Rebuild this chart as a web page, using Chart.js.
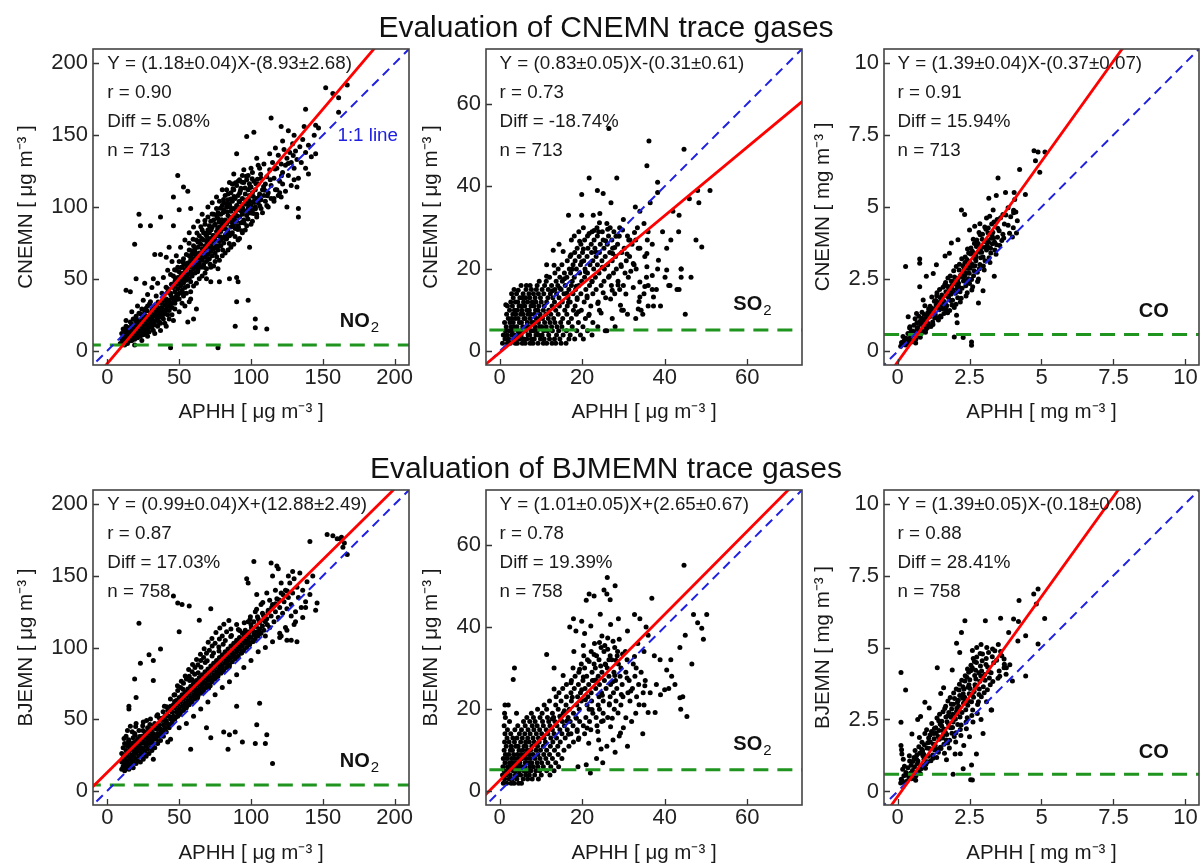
<!DOCTYPE html>
<html><head><meta charset="utf-8">
<script src="https://cdn.jsdelivr.net/npm/chart.js@4.4.1/dist/chart.umd.min.js"></script>
<style>
html,body{margin:0;padding:0;background:#fff;width:1201px;height:868px;overflow:hidden;position:relative;font-family:"Liberation Sans",Arial,sans-serif;}
canvas{position:absolute;}
.ttl{position:absolute;left:0;width:1212px;text-align:center;font-size:30px;line-height:30px;color:#111;white-space:nowrap;z-index:2;}
</style></head><body>
<div class="ttl" style="top:12px">Evaluation of CNEMN trace gases</div>
<div class="ttl" style="top:453px">Evaluation of BJMEMN trace gases</div>
<canvas id="c1"></canvas><canvas id="c2"></canvas><canvas id="c3"></canvas>
<canvas id="c4"></canvas><canvas id="c5"></canvas><canvas id="c6"></canvas>
<script>
// ---------- scatter data [APHH, model] ----------
const cnemnNO2 = [
[9,5],[10,8],[10,12],[11,6],[11,10],[12,4],[12,8],[12,14],[13,6],[13,11],[13,17],[14,9],[14,5],[14,13],[15,7],[15,11],[15,16],[16,9],[16,13],[16,20],[17,7],[17,11],[17,15],[18,10],[18,14],[18,22],[19,8],[19,13],[19,18],[20,11],[20,16],[20,24],[21,9],[21,14],[21,19],[22,12],[22,17],[22,26],[23,10],[23,15],[23,21],[24,13],[24,18],[24,29],[25,11],[25,16],[25,22],[26,14],[26,20],[26,27],[27,12],[27,18],[27,24],[28,15],[28,21],[28,31],[29,17],[29,23],[29,13],[30,19],[30,26],[30,34],[31,16],[31,22],[31,28],[32,20],[32,25],[32,14],[33,18],[33,24],[33,31],[34,21],[34,27],[34,38],[35,17],[35,25],[35,30],[36,23],[36,28],[36,20],[37,26],[37,33],[37,19],[38,24],[38,30],[38,40],[39,22],[39,28],[39,35],[40,26],[40,32],[40,19],[41,29],[41,36],[42,25],[42,31],[42,43],[43,28],[43,35],[43,22],[44,33],[44,40],[45,30],[45,37],[45,25],
[46,36],[46,44],[46,52],[47,33],[47,41],[47,48],[48,38],[48,46],[48,56],[49,43],[49,51],[50,40],[50,47],[50,55],[50,62],[51,45],[51,52],[52,42],[52,49],[52,58],[53,47],[53,54],[53,64],[54,44],[54,51],[54,60],[55,49],[55,57],[55,67],[56,53],[56,61],[56,45],[57,50],[57,58],[57,70],[58,55],[58,63],[58,48],[59,60],[59,67],[59,52],[60,57],[60,64],[60,73],[61,54],[61,62],[61,69],[62,59],[62,66],[62,77],[63,56],[63,64],[63,72],[64,61],[64,68],[64,80],[65,58],[65,66],[65,74],[66,63],[66,71],[66,84],[67,60],[67,69],[67,77],[68,65],[68,73],[68,88],[69,62],[69,71],[69,80],[70,67],[70,76],[70,84],[70,93],[71,64],[71,73],[71,82],[72,69],[72,78],[72,90],[73,66],[73,75],[73,86],[74,71],[74,80],[74,95],[75,68],[75,77],[75,88],[76,73],[76,83],[76,99],[77,70],[77,80],[77,92],[78,76],[78,86],[78,104],[79,73],[79,83],[79,95],[80,78],[80,88],[80,101],[81,75],[81,85],[81,98],[82,80],[82,91],[82,108],[83,78],[83,88],[83,100],[84,83],[84,94],[84,105],[85,80],[85,90],[85,102],[86,86],[86,97],[86,110],[87,82],[87,93],[87,104],[88,88],[88,99],[88,112],[89,85],[89,95],[89,106],[90,90],[90,101],[90,115],[91,87],[91,98],[91,108],[92,93],[92,104],[93,89],[93,100],[93,113],[94,95],[94,106],[95,91],[95,102],[95,117],[96,97],[96,109],[97,94],[97,105],[98,99],[98,112],[99,96],[99,108],[100,101],[100,114],[101,98],[101,110],[102,104],[102,118],[103,100],[103,112],[104,106],[105,103],[105,116],[106,109],[107,105],[107,120],[108,112],[109,108],[110,116],[110,104],
[111,121],[112,110],[113,126],[114,115],[115,131],[116,120],[117,112],[118,127],[119,136],[120,118],[121,130],[122,124],[123,140],[124,129],[125,134],[126,122],[127,138],[128,131],[129,144],[130,127],[131,139],[132,133],[133,120],[134,142],[135,131],[136,147],[138,138],[140,143],[142,135],[144,150],[147,155],[128,115],[124,111],[119,108],[132,114],[122,146],[117,141],[113,137],[109,130],[106,127],[104,134],[100,127],[98,122],[95,126],[92,119],[88,123],[85,117],[83,112],[80,112],[76,107],[73,103],[70,100],[66,95],[63,90],[60,86],[57,82],[54,77],[51,72],[48,66],[45,62],
[60,45],[64,50],[68,54],[72,58],[75,62],[80,66],[84,70],[88,74],[92,78],[96,84],[100,88],[104,93],[108,96],[112,100],[116,104],[120,110],[55,40],[50,36],[52,33],
[47,29],[53,38],[58,41],[62,47],[66,52],[69,57],[74,59],[78,63],[82,68],[86,72],[91,77],[94,82],[97,87],[101,90],[104,95],[107,99],[111,101],[114,106],[118,112],[122,116],
[44,53],[49,58],[53,61],[57,66],[61,71],[64,76],[67,82],[71,87],[74,91],[77,96],[81,103],[84,109],[87,116],[91,118],[94,122],[97,119],[101,124],[105,129],
[21,31],[25,35],[28,39],[31,44],[35,47],[39,51],[42,56],[17,27],[13,21],[11,15],[19,4],[24,7],[28,10],[33,12],[37,14],[41,17],[46,21],[50,27],[54,31],[58,36],
[63.5,59.3],[68.7,71.2],[72.4,74.1],[76.8,85.3],[79.6,91.2],[83.3,96.7],[86.7,89.4],[88.2,107.3],[92.6,111.4],[95.8,113.2],[99.1,103.7],[103.4,116.2],[106.7,122.8],[54.3,56.2],[57.8,65.4],[61.2,67.9],[65.7,78.1],[69.3,75.8],[73.6,80.2],[77.4,82.6],[81.7,88.3],[85.2,92.4],[89.7,97.6],[93.3,97.1],[97.4,101.8],[101.6,107.3],[58.4,61.3],[62.7,62.1],[66.2,67.4],[70.8,71.3],[74.4,76.9],[78.9,79.3],[82.3,84.6],[87.1,86.8],[90.6,93.7],[94.2,99.2],[98.5,104.8],[102.2,103.1],[113.4,118.9],[116.7,126.4],[121.2,121.7],[125.8,130.3],[129.4,135.8],[42.3,40.7],[38.6,35.2],[35.4,33.8],[31.7,29.5],[27.5,27.8],[24.2,24.1],[20.6,21.7],[17.3,17.2],[14.7,14.6],[12.4,10.3],[16.2,6.8],[21.8,11.3],[26.3,15.8],[30.7,17.1],[34.8,22.6],[39.2,25.4],[43.7,30.8],[48.2,35.6],[52.6,40.2],[47.3,50.4],[51.8,53.6],[44.6,46.3],[40.9,44.2],
[52.7,61.8],[55.4,52.3],[58.9,69.6],[61.6,58.4],[63.2,75.4],[66.8,68.9],[68.1,81.6],[70.5,63.7],[72.9,95.1],[75.3,71.8],[77.7,89.5],[79.2,77.3],[80.6,96.2],[83.8,81.9],[85.9,105.6],[88.4,91.8],[90.9,84.3],[92.1,109.8],[94.7,89.7],[96.5,103.9],[99.3,113.6],[101.8,95.4],[104.5,119.4],[106.1,100.8],[108.8,114.3],[111.4,107.9],[56.9,74.8],[59.7,77.5],[62.4,81.9],[65.1,86.3],[67.9,90.6],[69.8,78.4],[72.3,84.1],[74.8,87.7],[76.2,93.4],[78.6,99.1],[80.9,105.3],[83.1,102.4],[85.6,99.8],[87.5,112.7],[89.2,116.8],[91.7,103.5],[93.9,117.2],[96.8,121.4],[98.9,116.2],[100.8,119.7],[46.8,56.3],[49.6,48.7],[51.3,57.9],[53.9,49.2],[56.2,58.8],[58.1,53.7],[60.9,61.2],[62.8,54.9],[65.3,63.6],[67.2,58.1],[69.7,67.3],[71.6,60.2],[73.2,71.5],[76.1,65.4],[78.2,72.9],[80.3,70.1],[82.7,77.8],[84.9,74.6],[86.3,81.2],[88.9,79.5],[91.3,85.7],[93.6,83.4],[95.2,88.8],[97.9,91.6],[100.3,95.9],[103.1,98.7],[105.8,107.2],[109.5,111.6],
[11.3,7.4],[13.6,12.8],[15.8,9.7],[18.4,17.6],[20.2,13.3],[22.7,19.8],[25.4,20.6],[27.8,22.9],[30.3,23.7],[32.6,28.4],[35.8,27.2],[38.1,33.6],[41.6,34.1],[44.2,38.7],[29.4,32.6],[26.7,29.3],[23.1,25.7],[19.6,20.9],[16.9,18.4],[14.3,15.9],[12.8,5.6],[17.9,9.2],[22.3,14.6],[27.1,17.3],[31.9,19.8],[36.7,24.8],[40.8,28.1],[45.7,33.4],[49.1,38.9],
[167,185],[152,183],[157,179],[161,176],[161,166],[138,168],[145,157],[137,156],[114,162],[121,156],[102,152],[97,149],[126,153],[130,150],[145,137],[140,123],[138,127],[130,119],[125,100],[133,99],[133,93],[116,106],[121,107],[90,137],[49,122],[53,114],[56,111],[46,107],[22,95],[23,87],[30,87],[37,93],[50,98],[58,99],[46,87],[19,74],[33,67],[37,67],[41,65],[43,72],[20,50],[26,47],[32,50],[13,42],[16,41],[90,51],[91,48],[85,50],[78,48],[90,34],[89,17],[103,22],[103,16],[111,15],[98,35],[99,72],[77,57],[72,48],[69,50],[44,2],[77,2],[60,22],[56,20],[62,29],[57,34]
];
const cnemnSO2 = [
[0.7,2],[1.9,2],[2.6,2],[3.8,2],[4.3,2],[5.5,2],[6.2,2],[7.4,2],[8.1,2],[9.3,2],[10.6,2],[11.4,2],[12.7,2],[13.6,2],[14.9,2],[16.1,2],
[1.3,3],[2.2,3],[3.4,3],[4.1,3],[4.9,3],[5.8,3],[6.6,3],[7.7,3],[8.4,3],[9.9,3],[10.8,3],[12.1,3],[13.3,3],[14.6,3],[16.8,3],[18.2,3],[20.3,3],
[0.9,4],[1.8,4],[2.9,4],[3.6,4],[4.6,4],[5.2,4],[6.9,4],[7.3,4],[8.8,4],[9.5,4],[10.3,4],[11.9,4],[13.8,4],[15.4,4],[17.1,4],[19.6,4],[22.4,4],
[1.4,5],[2.3,5],[3.1,5],[4.4,5],[5.1,5],[6.3,5],[7.6,5],[8.2,5],[9.1,5],[10.7,5],[11.6,5],[12.8,5],[14.3,5],[16.2,5],[18.7,5],[21.3,5],[25.6,5],
[1.6,6],[2.8,6],[3.5,6],[4.2,6],[5.6,6],[6.4,6],[7.1,6],[8.6,6],[9.7,6],[10.2,6],[11.3,6],[12.6,6],[13.9,6],[15.1,6],[17.6,6],[20.2,6],[23.8,6],
[1.2,7],[2.5,7],[3.3,7],[4.8,7],[5.3,7],[6.7,7],[7.8,7],[8.3,7],[9.4,7],[10.9,7],[12.2,7],[13.4,7],[14.8,7],[16.7,7],[19.1,7],[22.6,7],
[2.1,8],[2.9,8],[3.8,8],[4.5,8],[5.9,8],[6.2,8],[7.4,8],[8.9,8],[9.6,8],[10.4,8],[11.8,8],[13.1,8],[15.3,8],[17.4,8],[20.8,8],[27.3,8],
[1.7,9],[3.2,9],[3.9,9],[5.1,9],[5.7,9],[6.9,9],[7.5,9],[8.4,9],[9.8,9],[11.2,9],[12.4,9],[14.2,9],[16.3,9],[18.6,9],[21.7,9],
[2.4,10],[3.6,10],[4.3,10],[5.4,10],[6.6,10],[7.2,10],[8.7,10],[9.3,10],[10.6,10],[11.9,10],[13.6,10],[15.8,10],[17.9,10],[19.8,10],[24.2,10],[29.6,10],
[1.9,11],[3.1,11],[4.7,11],[5.2,11],[6.1,11],[7.6,11],[8.3,11],[9.5,11],[10.8,11],[12.7,11],[14.5,11],[16.4,11],[18.3,11],[22.1,11],
[2.7,12],[3.8,12],[4.4,12],[5.8,12],[6.8,12],[7.9,12],[8.8,12],[10.1,12],[11.4,12],[13.3,12],[15.2,12],[17.1,12],[20.5,12],[23.9,12],
[3.3,13],[4.9,13],[5.5,13],[6.3,13],[7.3,13],[8.6,13],[9.9,13],[11.7,13],[12.9,13],[14.4,13],[16.6,13],[18.8,13],[21.2,13],[25.7,13],
[2.9,14],[4.1,14],[5.7,14],[7.1,14],[8.2,14],[9.4,14],[10.7,14],[12.3,14],[13.8,14],[15.6,14],[17.8,14],[19.7,14],[22.6,14],[27.9,14],
[3.5,15],[6.4,15],[7.7,15],[8.9,15],[10.3,15],[11.8,15],[13.4,15],[14.9,15],[16.8,15],[18.4,15],[20.9,15],[23.4,15],[29.1,15],
[5.2,16],[7.4,16],[9.1,16],[10.9,16],[12.6,16],[14.1,16],[15.9,16],[17.4,16],[19.2,16],[21.8,16],[24.6,16],[27.1,16],
[9.6,17],[11.3,17],[13.7,17],[15.2,17],[17.6,17],[19.9,17],[22.4,17],[25.3,17],[28.7,17],[12.1,18],[14.6,18],[16.3,18],[18.1,18],[20.6,18],[23.2,18],[26.4,18],[31.2,18],[35.6,18],
[13.4,19],[15.7,19],[17.2,19],[19.4,19],[21.3,19],[24.1,19],[27.6,19],[30.4,19],[14.2,20],[16.9,20],[18.6,20],[20.7,20],[22.8,20],[25.4,20],[28.3,20],[33.1,20],
[15.1,21],[17.8,21],[19.6,21],[21.9,21],[23.7,21],[26.2,21],[29.4,21],[32.6,21],[16.4,22],[18.3,22],[20.4,22],[22.6,22],[24.8,22],[27.3,22],[30.7,22],
[17.1,23],[19.3,23],[21.2,23],[23.4,23],[25.6,23],[28.1,23],[31.5,23],[35.2,23],[18.2,24],[20.1,24],[22.3,24],[24.2,24],[26.7,24],[29.6,24],
[18.8,25],[21.4,25],[23.1,25],[25.3,25],[27.4,25],[30.2,25],[33.6,25],[19.7,26],[22.2,26],[24.4,26],[26.1,26],[28.6,26],[32.1,26],
[17.4,27],[20.6,27],[22.9,27],[25.1,27],[27.2,27],[31.3,27],[35.8,27],[18.1,28],[21.3,28],[23.7,28],[26.4,28],[28.9,28],
[19.2,29],[22.4,29],[24.9,29],[27.7,29],[20.3,30],[23.6,30],[26.8,30],[29.1,30],[33.4,30],
[15.7,17.6],[17.3,23.4],[18.6,15.8],[19.4,26.7],[20.8,19.3],[21.7,28.6],[22.4,16.9],[23.3,24.1],[24.9,20.4],[25.7,26.8],[26.6,18.3],[27.4,23.7],[28.2,27.9],[29.5,20.6],[19.9,21.7],[21.2,13.4],[23.8,11.6],[25.1,14.2],[26.9,12.7],[28.7,16.1],[30.6,13.9],[31.8,19.4],[17.6,19.9],[16.3,14.1],[18.8,12.6],[20.3,24.8],[22.9,29.3],[24.2,31.2],[26.2,29.6],[27.9,25.2],[29.8,29.4],[30.9,23.6],[32.7,28.8],[14.6,15.3],[13.2,20.9],[15.4,24.2],[12.8,14.7],[16.7,11.9],[19.1,9.6],[21.6,8.7],[24.6,9.3],[27.3,14.8],[33.8,12.1],[35.2,15.7],[29.3,11.2],
[30,10],[33.6,10.3],[34.3,10],[34.7,9],[34,13.2],[32.4,15.5],[30,16],[34,16.8],[37.3,13.2],[37,18.4],[38.3,20],[38.5,22.1],[40.5,19.7],[40.1,18],[32.4,21.3],[35.7,20.5],[35.7,23.7],[34,25],[31.6,27],[28,6],[26,5],[31,9],[33,8],[36,11],[38,15],[39,11],[41,16],[43,15],[44,20],[44,18],[46.4,18],[41.3,16],[45,9],[43.5,15],[37,15],[37.3,11],[36,16],[35,14],
[36.2,51],[44.7,49],[35.7,45],[26.5,54],[21.7,42],[28.4,42],[19.9,38],[23.7,39],[25.1,38.3],[16.7,33],[19.9,33],[22.7,33],[24.3,33.4],[14.4,26],[13,24.5],[11.4,21],[11.4,18.2],[4.5,14.8],[1.5,11.3],[6.5,16],[38.3,41],[38.3,38.5],[36.5,36],[32.9,35],[34,34],[48,39],[51,39],[46,37],[48.3,36],[42,34],[43.5,33],[39.5,29],[43.4,29],[41.5,27],[47.6,27],[49,25.3],[40.5,25],[44,20],[27,36],[30,32],[31,28],[29,28],[26,31],[24,29],[33,27],[36,29],[35,31],[37,26]
];
const cnemnCO = [
[0.14,0.31],[0.27,0.22],[0.19,0.52],[0.23,0.37],[0.11,0.18],[0.29,0.46],[0.16,0.27],
[0.36,0.62],[0.48,0.33],[0.33,0.25],[0.42,0.81],[0.45,0.49],[0.39,0.38],[0.47,0.68],[0.31,0.44],
[0.57,0.91],[0.64,0.43],[0.52,0.56],[0.69,0.74],[0.61,1.13],[0.55,0.35],[0.67,0.98],[0.59,0.66],[0.63,0.29],
[0.74,1.22],[0.82,0.62],[0.88,0.97],[0.71,0.83],[0.79,0.49],[0.85,1.36],[0.77,1.04],[0.89,0.71],[0.73,0.58],[0.84,1.15],
[0.93,1.28],[1.04,0.83],[0.97,0.66],[1.08,1.47],[0.91,1.02],[1.02,1.19],[0.95,1.58],[1.07,0.97],[0.99,0.77],[1.05,1.34],[0.92,0.89],
[1.13,1.56],[1.22,1.02],[1.28,1.74],[1.16,0.86],[1.25,1.31],[1.11,1.19],[1.19,1.88],[1.27,1.45],[1.14,1.37],[1.23,0.93],[1.29,1.16],
[1.34,1.61],[1.42,1.09],[1.48,1.87],[1.31,1.28],[1.45,1.44],[1.37,2.03],[1.49,1.23],[1.33,1.76],[1.41,1.52],[1.46,2.14],[1.38,1.17],[1.44,1.69],
[1.53,1.82],[1.61,1.31],[1.68,2.07],[1.56,1.48],[1.64,2.31],[1.51,1.19],[1.66,1.64],[1.58,2.22],[1.69,1.43],[1.54,1.95],[1.62,1.73],[1.67,2.39],[1.59,1.57],
[1.72,1.93],[1.81,1.42],[1.88,2.28],[1.75,2.54],[1.84,1.76],[1.71,1.58],[1.86,2.06],[1.78,2.19],[1.89,1.61],[1.74,1.34],[1.83,2.61],[1.77,1.87],[1.87,2.43],
[1.92,2.14],[2.03,1.63],[2.08,2.47],[1.95,2.79],[2.01,2.01],[1.91,1.77],[2.06,2.31],[1.98,2.58],[2.09,1.86],[1.94,2.42],[2.04,2.94],[1.97,1.52],[2.07,2.17],
[2.12,2.36],[2.21,1.84],[2.28,2.71],[2.15,3.02],[2.24,2.19],[2.11,2.53],[2.27,2.97],[2.18,1.71],[2.29,2.44],[2.14,2.82],[2.23,3.21],[2.17,2.07],[2.26,2.58],
[2.33,2.61],[2.42,2.03],[2.48,2.96],[2.35,3.27],[2.44,2.39],[2.31,2.84],[2.47,3.41],[2.38,1.92],[2.49,2.71],[2.34,3.08],[2.43,3.55],[2.37,2.27],[2.46,2.52],[2.41,3.18],
[2.52,2.88],[2.61,2.24],[2.68,3.23],[2.55,3.58],[2.64,2.62],[2.51,3.11],[2.67,3.74],[2.58,2.13],[2.69,2.97],[2.54,3.37],[2.63,3.88],[2.57,2.49],[2.66,2.79],[2.6,3.47],
[2.72,3.14],[2.81,2.51],[2.88,3.52],[2.75,3.86],[2.84,2.86],[2.71,3.38],[2.87,4.04],[2.78,2.42],[2.89,3.24],[2.74,3.63],[2.83,4.12],[2.77,2.74],[2.86,3.01],[2.8,3.74],
[2.92,3.43],[3.01,2.82],[3.08,3.79],[2.95,4.06],[3.04,3.14],[2.91,3.62],[3.07,4.23],[2.98,2.96],[3.09,3.51],[2.94,3.88],[3.03,4.31],[2.97,3.27],
[3.12,3.66],[3.21,3.08],[3.28,4.02],[3.15,4.27],[3.24,3.41],[3.11,3.85],[3.27,4.41],[3.18,3.24],[3.29,3.73],[3.14,4.11],[3.23,3.57],
[3.33,3.92],[3.42,3.36],[3.48,4.26],[3.35,4.48],[3.44,3.69],[3.31,4.13],[3.47,3.95],[3.38,3.51],[3.46,4.57],[3.37,3.78],
[3.53,4.18],[3.62,3.84],[3.71,4.41],[3.58,4.63],[3.66,4.06],[3.76,4.72],[3.55,3.67],[3.69,3.93],
[3.84,4.37],[3.93,4.66],[4.02,4.28],[4.11,4.83],[3.89,4.09],[4.16,4.52],
[1.36,1.93],[1.52,1.61],[1.73,2.26],[1.85,1.98],[1.96,2.33],[2.19,2.64],[2.32,2.46],[2.45,2.87],[2.59,3.02],[2.73,3.28],[2.85,3.43],[3.02,3.61],[3.16,3.79],[3.26,3.92],[2.13,2.23],[2.39,2.71],[2.62,2.96],[1.21,1.49],[1.09,1.26],[0.94,1.11],[0.81,0.94],[0.68,0.79],[0.53,0.71],
[0.28,2.94],[0.77,3.2],[0.77,3.05],[2.22,4.9],[2.33,4.74],[3.49,6.0],[3.17,5.3],[3.43,5.4],[3.75,5.5],[4.05,5.5],[4.24,6.3],[4.44,5.43],[4.74,6.95],[4.88,6.9],[4.79,6.6],[5.12,6.9],[4.94,6.2],[4.03,4.8],[4.13,4.1],[3.99,3.96],[3.36,2.6],[2.81,1.68],[1.97,0.5],[2.28,0.48],[2.57,0.33],[2.57,0.21],[2.07,0.99],[2.05,1.25],[2.97,2.1],[2.5,2.35],
[1.0,2.6],[1.24,2.7],[1.35,3.0],[1.65,3.3],[1.8,3.4],[2.1,3.87],[1.87,3.75],[2.5,4.2],[2.68,4.33],[2.86,4.42],[3.09,4.62],[3.2,4.68],[3.32,4.9],[3.66,4.74],[3.84,4.97],[4.03,4.89],[4.07,5.26],[0.77,2.24],[0.89,1.78],[0.66,1.31],[0.37,1.2],[0.43,0.85]
];
const bjmemnNO2 = [
[10,15],[10,20],[10,26],[11,17],[11,23],[11,30],[12,14],[12,19],[12,25],[12,33],[13,16],[13,21],[13,28],[13,38],[14,18],[14,24],[14,31],[14,42],[15,15],[15,20],[15,27],[15,35],[16,17],[16,22],[16,29],[16,45],[17,19],[17,25],[17,33],[18,16],[18,21],[18,28],[18,37],[19,23],[19,30],[19,40],[20,19],[20,26],[20,34],[20,47],[21,21],[21,28],[21,36],[22,24],[22,31],[22,42],[23,20],[23,27],[23,34],[24,25],[24,30],[24,38],[25,22],[25,29],[25,36],[25,48],[26,27],[26,33],[26,41],[27,24],[27,31],[27,38],[28,29],[28,35],[28,44],[29,26],[29,33],[29,40],[30,30],[30,37],[30,50],[31,28],[31,35],[31,43],[32,33],[32,40],[33,30],[33,38],[33,47],[34,36],[34,43],[35,33],[35,40],[35,53],[36,38],[36,46],[37,35],[37,43],[38,41],[38,49],[39,38],[39,46],[40,44],[40,52],[41,41],[41,49],[42,47],[42,56],[43,44],[43,52],[44,50],[44,59],[45,47],[45,55],
[46,52],[46,60],[47,50],[47,58],[47,67],[48,55],[48,63],[49,52],[49,60],[49,70],[50,57],[50,65],[51,55],[51,62],[51,72],[52,59],[52,67],[53,56],[53,64],[53,75],[54,61],[54,69],[55,58],[55,66],[55,78],[56,63],[56,71],[57,60],[57,68],[57,80],[58,65],[58,73],[59,62],[59,70],[59,83],[60,67],[60,75],[61,64],[61,72],[61,86],[62,69],[62,77],[63,66],[63,74],[63,88],[64,71],[64,79],[65,68],[65,76],[65,91],[66,73],[66,81],[67,70],[67,78],[67,93],[68,75],[68,83],[69,72],[69,80],[69,96],[70,77],[70,85],[71,74],[71,82],[71,98],[72,79],[72,87],[73,76],[73,84],[73,101],[74,81],[74,89],[75,78],[75,86],[75,103],[76,83],[76,91],[77,80],[77,88],[78,85],[78,93],[78,106],[79,82],[79,90],[80,87],[80,95],[80,108],[81,84],[81,92],[82,89],[82,97],[83,86],[83,94],[83,111],[84,91],[84,99],[85,88],[85,96],[86,93],[86,101],[86,113],[87,90],[87,98],[88,95],[88,103],[89,92],[89,100],[90,97],[90,105],[90,116],[91,94],[91,102],[92,99],[92,107],[93,96],[93,104],[94,101],[94,110],[95,98],[95,106],[96,103],[96,112],[97,100],[97,108],[98,105],[99,102],[99,111],[100,107],[100,116],[101,104],[102,109],[102,118],[103,106],[104,111],[105,108],[105,120],[106,113],[107,110],[108,115],[108,124],[109,112],[110,118],[110,108],
[111,120],[112,126],[113,114],[114,122],[115,130],[116,118],[117,125],[118,134],[119,121],[120,128],[121,138],[122,124],[123,132],[124,140],[125,127],[126,135],[127,145],[128,130],[129,138],[130,148],[131,125],[132,142],[133,135],[134,152],[135,128],[136,140],[138,132],[139,146],[141,137],[143,150],[131,118],[128,122],[124,114],[120,110],[126,150],[129,153],[121,145],[117,140],[113,133],[119,155],[115,150],[111,138],[107,130],[103,125],[98,118],
[60,52],[65,57],[70,62],[75,67],[80,72],[85,76],[90,81],[95,86],[100,91],[105,97],[110,100],[115,104],[120,107],[125,112],[130,116],[55,47],[50,44],
[12.4,22.7],[14.8,35.6],[17.3,41.2],[11.6,36.4],[19.7,44.8],[22.5,37.9],[24.6,45.3],[27.3,49.1],[13.2,24.9],[16.5,31.6],[18.9,26.3],[21.4,30.8],[23.8,33.2],[26.1,38.5],[28.7,41.6],[31.2,38.9],[33.6,43.7],[36.3,50.6],[38.8,55.2],[41.3,58.7],[43.9,64.1],[46.4,66.8],[48.8,73.2],[51.5,76.4],[54.2,80.1],[56.6,84.7],[59.3,88.2],[62.1,91.6],[64.8,95.3],[67.4,99.1],[70.2,103.6],[72.8,106.2],[75.6,110.4],[78.3,113.7],[81.1,116.2],[84.6,118.9],[37.4,40.2],[40.1,42.8],[42.7,45.1],[45.3,48.9],[47.9,51.7],[50.6,53.3],[53.2,56.8],[55.8,60.1],[58.5,62.4],[61.3,65.7],[63.9,68.2],[66.6,71.5],[69.2,73.8],[71.9,77.1],[74.5,80.3],[77.2,82.9],[79.8,86.4],[82.5,89.1],[85.1,92.6],[87.8,95.2],[90.4,98.7],[93.1,101.3],[95.7,104.8],[98.4,108.2],[101.1,111.9],[103.7,114.6],[106.3,118.3],[109.1,121.7],[111.8,124.4],[114.4,127.9],[117.1,130.6],[119.7,133.1],[122.4,136.8],[125.2,139.5],[57.3,76.9],[60.8,81.4],[65.2,86.2],[69.5,90.7],[73.9,96.1],[77.6,100.4],[82.1,104.9],[86.4,108.3],[91.2,112.6],[95.3,117.2],[99.6,121.5],[103.9,126.8],[108.2,131.4],
[52.7,70.8],[55.4,59.3],[58.9,77.6],[61.6,66.4],[63.2,82.4],[66.8,75.9],[68.1,89.6],[70.5,71.7],[72.9,94.1],[75.3,80.8],[77.7,97.5],[79.2,85.3],[80.6,102.2],[83.8,90.9],[85.9,107.6],[88.4,99.8],[90.9,93.3],[92.1,111.8],[94.7,97.7],[96.5,110.9],[99.3,119.6],[101.8,104.4],[104.5,121.4],[106.1,109.8],[108.8,122.3],[111.4,115.9],[46.8,62.3],[49.6,55.7],[51.3,64.9],[53.9,58.2],[56.2,67.8],[58.1,61.7],[60.9,70.2],[62.8,64.9],[65.3,74.6],[67.2,69.1],[69.7,79.3],[71.6,73.2],[73.2,85.5],[76.1,79.4],[78.2,88.9],[80.3,83.1],[82.7,93.8],[84.9,86.6],[86.3,97.2],[88.9,92.5],[91.3,103.7],[93.6,96.4],[95.2,108.8],[97.9,103.6],[100.3,113.9],[103.1,108.7],[105.8,117.2],[109.5,118.6],[11.3,21.4],[13.6,27.8],[15.8,23.7],[18.4,33.6],[20.2,29.3],[22.7,35.8],[25.4,33.6],[27.8,36.9],[30.3,40.7],[32.6,45.4],[35.8,44.2],[38.1,50.6],[41.6,53.1],[44.2,57.7],[12.8,18.6],[17.9,24.2],[22.3,28.6],[27.1,32.3],[31.9,36.8],[36.7,42.8],[40.8,47.1],[45.7,51.4],[14.1,33.2],[19.3,38.7],[24.8,42.1],[29.6,46.3],[34.4,52.2],[39.7,58.9],
[157,178],[153,179],[160,176],[163,177],[165,173],[167,165],[164,170],[162,176],[141,174],[102,160],[98,145],[97,148],[114,159],[118,157],[145,126],[132,104],[104,137],[46,136],[49,131],[52,130],[57,129],[50,111],[72,127],[64,119],[22,117],[37,99],[29,95],[32,91],[23,89],[19,78],[20,65],[15,59],[15,57],[32,77],[69,44],[72,37],[81,41],[85,39],[89,41],[84,29],[94,34],[103,33],[110,33],[111,39],[104,46],[106,61],[90,59],[58,29],[115,19],[32,22],[44,36],[42,34],[146,131],[138,128],[136,121],[128,105],[125,105],[121,108]
];
const bjmemnSO2 = [
[0.9,2],[1.7,2],[2.8,2],[3.5,2],[4.6,2],[5.3,2],[1.2,3],[2.3,3],[3.1,3],[4.2,3],[5.7,3],[6.8,3],[7.9,3],[9.4,3],
[0.7,4],[1.6,4],[2.6,4],[3.8,4],[4.4,4],[5.1,4],[6.3,4],[7.2,4],[8.5,4],[10.1,4],[12.2,4],
[1.1,5],[2.1,5],[3.3,5],[3.9,5],[4.8,5],[5.9,5],[6.7,5],[7.6,5],[8.8,5],[9.7,5],[11.4,5],[13.2,5],
[0.8,6],[1.9,6],[2.7,6],[3.6,6],[4.5,6],[5.4,6],[6.1,6],[7.3,6],[8.2,6],[9.3,6],[10.6,6],[12.4,6],[14.3,6],
[1.3,7],[2.4,7],[3.2,7],[4.1,7],[4.9,7],[6.2,7],[6.9,7],[7.8,7],[9.1,7],[10.2,7],[11.7,7],[13.6,7],
[0.9,8],[1.8,8],[2.9,8],[3.7,8],[4.6,8],[5.5,8],[6.4,8],[7.4,8],[8.6,8],[9.8,8],[11.2,8],[12.8,8],[15.1,8],
[1.4,9],[2.2,9],[3.4,9],[4.3,9],[5.2,9],[6.1,9],[7.1,9],[8.1,9],[9.3,9],[10.7,9],[12.1,9],[14.2,9],
[1.1,10],[2.6,10],[3.1,10],[4.7,10],[5.6,10],[6.7,10],[7.5,10],[8.8,10],[9.9,10],[11.4,10],[13.3,10],[15.6,10],
[1.6,11],[2.8,11],[3.9,11],[4.5,11],[5.9,11],[6.4,11],[7.8,11],[9.2,11],[10.6,11],[12.3,11],[14.1,11],[16.8,11],
[1.2,12],[2.3,12],[3.6,12],[5.1,12],[6.3,12],[7.2,12],[8.4,12],[9.6,12],[11.1,12],[12.9,12],[14.7,12],[17.9,12],
[1.8,13],[3.2,13],[4.2,13],[5.5,13],[6.8,13],[8.1,13],[9.4,13],[10.8,13],[12.4,13],[13.8,13],[15.9,13],[19.2,13],
[1.3,14],[2.7,14],[4.8,14],[6.1,14],[7.4,14],[8.9,14],[10.2,14],[11.7,14],[13.2,14],[15.1,14],[17.3,14],[20.6,14],
[1.9,15],[3.7,15],[5.3,15],[6.9,15],[8.3,15],[9.7,15],[11.3,15],[12.8,15],[14.6,15],[16.4,15],[18.8,15],[22.1,15],
[1.1,16],[4.4,16],[6.2,16],[7.9,16],[9.1,16],[10.6,16],[12.2,16],[13.9,16],[15.7,16],[17.8,16],[20.3,16],[23.6,16],
[2.4,17],[5.8,17],[7.3,17],[8.6,17],[10.4,17],[11.9,17],[13.4,17],[15.2,17],[17.1,17],[19.4,17],[21.8,17],[24.7,17],
[1.4,18],[6.6,18],[8.2,18],[9.8,18],[11.6,18],[13.1,18],[14.8,18],[16.6,18],[18.5,18],[20.9,18],[23.4,18],[26.2,18],
[1.2,19],[4.1,19],[7.7,19],[10.3,19],[12.8,19],[15.4,19],[17.9,19],[22.6,19],[25.1,19],[1.3,21],[2.1,21],[9.2,20],[11.4,20],[14.2,20],[16.9,20],[19.3,20],[21.7,20],[24.2,20],[27.8,20],[10.8,21],[13.6,21],[16.1,21],[18.7,21],[21.2,21],[23.9,21],[26.6,21],[29.4,21],
[12.1,22],[14.9,22],[17.4,22],[19.8,22],[22.3,22],[25.1,22],[28.2,22],[31.6,22],[13.7,23],[16.2,23],[18.9,23],[21.4,23],[24.1,23],[26.8,23],[29.9,23],[33.2,23],[14.4,24],[17.3,24],[19.6,24],[22.2,24],[24.7,24],[27.6,24],[31.1,24],[34.8,24],
[15.3,25],[18.1,25],[20.7,25],[23.3,25],[25.8,25],[28.4,25],[32.2,25],[16.2,26],[19.1,26],[21.6,26],[24.2,26],[26.9,26],[29.7,26],[33.7,26],[17.4,27],[20.2,27],[22.8,27],[25.4,27],[28.1,27],[31.4,27],[35.3,27],
[18.3,28],[21.1,28],[23.9,28],[26.5,28],[29.2,28],[32.8,28],[19.2,29],[22.4,29],[24.8,29],[27.7,29],[30.6,29],[34.3,29],[17.8,30],[20.6,30],[23.2,30],[26.1,30],[29.4,30],[33.1,30],[3.6,30],[3.3,27.2],
[19.8,31],[22.9,31],[25.6,31],[28.8,31],[32.4,31],[21.3,32],[24.1,32],[27.2,32],[30.9,32],[20.4,33],[23.5,33],[26.8,33],[11.4,33.3],[13.2,30],[22.2,34],[25.3,34],[28.6,34],[18,34],[20.3,35.5],[24.6,35],[27.9,35],
[15.7,19.6],[17.3,26.4],[18.6,17.8],[19.4,29.7],[20.8,22.3],[21.7,31.6],[22.4,19.9],[23.3,27.1],[24.9,23.4],[25.7,30.8],[26.6,21.3],[27.4,26.7],[28.2,31.9],[29.5,23.6],[19.9,24.7],[21.2,15.4],[23.8,14.6],[25.1,17.2],[26.9,15.7],[28.7,19.1],[30.6,17.9],[31.8,24.4],[17.6,22.9],[16.3,17.1],[18.8,14.6],[20.3,27.8],[22.9,33.3],[24.2,36.2],[26.2,34.6],[27.9,28.2],[29.8,33.4],[30.9,27.6],[32.7,32.8],[14.6,18.3],[13.2,24.9],[15.4,28.2],[12.8,17.7],[16.7,13.9],[19.1,12.6],[21.6,11.7],[24.6,10.3],[27.3,17.8],[33.8,21.1],[35.2,25.7],[29.3,14.2],[22.1,40.2],[24.4,43.1],[20.6,38.4],[26.9,40.6],
[24,12.5],[26,11],[27.5,12.5],[29,13.5],[30,15.5],[32,17],[33,19],[34.7,14],[36,19.2],[37.7,19.2],[39,23.5],[41,25],[38,26],[36.5,24],[35,21],[31,11],[28,9.5],[23.5,8],[21,6.5],[19,6],[25,7],[22,4.5],
[44.7,55],[26.1,52],[28,50],[25.3,49],[26,48],[26.8,46.6],[21.7,48],[22.9,47.5],[21,46.5],[36.9,47],[32.7,43],[28.8,42],[17.9,42],[19.9,41.4],[17,40],[18.5,39],[31,39],[24.8,37.8],[26.2,37.3],[27.5,36.5],[25.5,35.5],[23,36],[29,37],[30.5,34],[28.5,33],[26.5,32],[24.5,30.5],[22.5,27],
[50.2,43],[47,43],[48,41],[49,39.7],[49.4,37],[45,38],[43.7,35],[46.6,31],[41.5,32],[38.9,32],[41.7,28],[40,24.7],[43.7,22.8],[43.9,20],[45.4,18.2],[44.4,23],[42.5,26],[40.5,29.5],[37.5,33],[35,34],[33.5,36],[36,38],[35.5,40],[34,42]
];
const bjmemnCO = [
[0.13,0.42],[0.27,0.31],[0.18,0.77],[0.22,0.55],[0.11,0.29],[0.29,0.66],[0.16,0.38],[0.24,0.88],[0.2,1.12],[0.14,1.45],
[0.36,0.82],[0.48,0.44],[0.33,0.36],[0.42,1.06],[0.45,0.63],[0.39,0.51],[0.47,0.91],[0.31,0.58],[0.41,1.24],
[0.57,1.18],[0.64,0.55],[0.52,0.73],[0.69,0.96],[0.61,1.42],[0.55,0.46],[0.67,1.27],[0.59,0.86],[0.63,0.39],[0.53,1.04],
[0.74,1.55],[0.82,0.79],[0.88,1.24],[0.71,1.06],[0.79,0.62],[0.85,1.71],[0.77,1.33],[0.89,0.91],[0.73,0.74],[0.84,1.47],[0.76,1.87],
[0.93,1.62],[1.04,1.03],[0.97,0.81],[1.08,1.86],[0.91,1.29],[1.02,1.51],[0.95,2.01],[1.07,1.22],[0.99,0.95],[1.05,1.69],[0.92,1.12],[1.01,2.14],
[1.13,1.96],[1.22,1.27],[1.28,2.19],[1.16,1.07],[1.25,1.64],[1.11,1.49],[1.19,2.36],[1.27,1.83],[1.14,1.72],[1.23,1.15],[1.29,1.44],[1.18,2.08],
[1.34,2.02],[1.42,1.36],[1.48,2.34],[1.31,1.59],[1.45,1.81],[1.37,2.55],[1.49,1.54],[1.33,2.21],[1.41,1.91],[1.46,2.68],[1.38,1.46],[1.44,2.12],[1.36,1.18],
[1.53,2.28],[1.61,1.64],[1.68,2.59],[1.56,1.86],[1.64,2.88],[1.51,1.49],[1.66,2.06],[1.58,2.77],[1.69,1.79],[1.54,2.44],[1.62,2.17],[1.67,2.96],[1.59,1.97],[1.63,1.33],
[1.72,2.42],[1.81,1.78],[1.88,2.86],[1.75,3.14],[1.84,2.21],[1.71,1.98],[1.86,2.58],[1.78,2.74],[1.89,2.02],[1.74,1.68],[1.83,3.26],[1.77,2.34],[1.87,3.03],[1.8,1.51],
[1.92,2.68],[2.03,2.04],[2.08,3.09],[1.95,3.42],[2.01,2.52],[1.91,2.22],[2.06,2.89],[1.98,3.23],[2.09,2.33],[1.94,3.03],[2.04,3.56],[1.97,1.91],[2.07,2.71],[2.02,1.72],
[2.12,2.96],[2.21,2.31],[2.28,3.39],[2.15,3.72],[2.24,2.74],[2.11,3.17],[2.27,3.64],[2.18,2.15],[2.29,3.06],[2.14,3.52],[2.23,3.86],[2.17,2.59],[2.26,3.24],[2.2,1.94],
[2.33,3.27],[2.42,2.56],[2.48,3.71],[2.35,4.02],[2.44,2.99],[2.31,3.56],[2.47,4.14],[2.38,2.41],[2.49,3.39],[2.34,3.84],[2.43,4.25],[2.37,2.84],[2.46,3.15],[2.41,3.97],[2.39,2.18],
[2.52,3.58],[2.61,2.83],[2.68,4.03],[2.55,4.38],[2.64,3.27],[2.51,3.88],[2.67,4.51],[2.58,2.64],[2.69,3.71],[2.54,4.19],[2.63,4.62],[2.57,3.12],[2.66,3.47],[2.6,4.29],[2.62,2.41],
[2.72,3.91],[2.81,3.12],[2.88,4.36],[2.75,4.67],[2.84,3.56],[2.71,4.21],[2.87,4.79],[2.78,3.02],[2.89,4.02],[2.74,4.48],[2.83,3.37],[2.77,2.71],[2.86,3.83],
[2.92,4.18],[3.01,3.43],[3.08,4.62],[2.95,4.77],[3.04,3.86],[2.91,3.29],[3.07,4.41],[2.98,3.64],[3.09,3.12],[2.94,4.54],[3.03,4.06],
[3.13,4.32],[3.22,3.71],[3.29,4.68],[3.16,4.83],[3.25,4.12],[3.12,3.53],[3.34,4.47],[3.19,3.94],[3.38,4.89],[3.31,3.82],
[3.44,4.56],[3.53,4.18],[3.62,4.71],[3.49,3.93],[3.71,4.42],[3.58,4.86],[3.77,4.07],
[1.43,2.46],[1.57,2.12],[1.76,2.63],[1.93,2.41],[2.05,2.78],[2.16,3.33],[2.36,3.13],[2.45,3.62],[2.59,3.36],[2.71,3.62],[2.82,4.12],[2.96,3.97],[3.17,4.16],[1.26,2.01],[1.09,1.71],[0.87,1.41],[0.66,1.12],
[2.9,2.5],[3.25,2.83],[2.97,2.01],[2.74,1.3],[2.57,0.92],[2.28,0.79],[2.54,0.41],[2.6,0.4],[1.93,0.6],[2.18,1.31],[2.3,1.6],[2.5,1.9],[2.0,1.3],[1.7,1.1],
[0.12,4.13],[0.28,3.52],[0.12,2.4],[1.38,4.3],[1.9,4.22],[2.34,5.93],[2.22,5.52],[2.05,5.15],[2.16,4.83],[3.05,5.93],[3.58,6.02],[4.03,5.99],[4.2,5.9],[4.22,6.63],[3.86,5.52],[4.18,5.23],[4.45,5.41],[4.73,6.86],[4.88,7.03],[4.82,6.51],[5.11,6.01],[4.88,5.12],[4.45,4.01],[3.99,3.84],[3.78,4.3],[3.27,2.83],[0.12,1.6],[0.15,1.3],[0.5,2.0],[0.7,2.5],[0.95,3.1],[1.1,2.9],[0.8,2.6],[1.6,3.6],[1.5,3.4],[2.6,4.9],[2.75,5.0],[2.9,5.1],[3.1,5.0],[3.3,4.95],[3.5,5.1],[3.7,4.6],[3.9,4.4],[3.55,4.0],[3.7,4.3]
];

// ---------- fitted regression lines (end points) ----------
const fitCnemnNO2 = [[-15,-26.63],[220,250.67]];
const fitCnemnSO2 = [[-5,-4.46],[80,66.09]];
const fitCnemnCO  = [[-1,-1.76],[11,14.92]];
const fitBjmemnNO2 = [[-15,-1.97],[220,230.68]];
const fitBjmemnSO2 = [[-5,-2.4],[80,83.45]];
const fitBjmemnCO  = [[-1,-1.57],[11,15.11]];
// 1:1 reference lines
const oneNO2 = [[-15,-15],[220,220]];
const oneSO2 = [[-5,-5],[80,80]];
const oneCO  = [[-1,-1],[11,11]];
// green dashed threshold levels (NO2, SO2, CO)
const thrCnemn = [4, 5.2, 0.59];
const thrBjmemn = [4, 5.3, 0.6];
// axis ranges and tick steps: NO2, SO2, CO
const axisRange = [[-10,210],[-3.3,73.3],[-0.47,10.47]];
const tickStep = [50, 20, 2.5];
// statistics text
const statsCnemnNO2 = ['Y = (1.18±0.04)X-(8.93±2.68)','r = 0.90','Diff = 5.08%','n = 713'];
const statsCnemnSO2 = ['Y = (0.83±0.05)X-(0.31±0.61)','r = 0.73','Diff = -18.74%','n = 713'];
const statsCnemnCO  = ['Y = (1.39±0.04)X-(0.37±0.07)','r = 0.91','Diff = 15.94%','n = 713'];
const statsBjmemnNO2 = ['Y = (0.99±0.04)X+(12.88±2.49)','r = 0.87','Diff = 17.03%','n = 758'];
const statsBjmemnSO2 = ['Y = (1.01±0.05)X+(2.65±0.67)','r = 0.78','Diff = 19.39%','n = 758'];
const statsBjmemnCO  = ['Y = (1.39±0.05)X-(0.18±0.08)','r = 0.88','Diff = 28.41%','n = 758'];
const gasNames = [['NO','2'],['SO','2'],['CO','']];
const unitUg = '[ μg m⁻³ ]', unitMg = '[ mg m⁻³ ]';

const FONT = '"Liberation Sans", Arial, Helvetica, sans-serif';

const deco = {
  id: 'deco',
  afterDatasetsDraw(chart) {
    const o = chart.options.plugins.deco;
    const {ctx, chartArea: a, scales: {x, y}} = chart;
    ctx.save();
    ctx.strokeStyle = '#333'; ctx.lineWidth = 1.3;
    ctx.beginPath();
    x.ticks.forEach(t => { const p = Math.round(x.getPixelForValue(t.value)) + 0.5; ctx.moveTo(p, a.bottom); ctx.lineTo(p, a.bottom - 6); });
    y.ticks.forEach(t => { const p = Math.round(y.getPixelForValue(t.value)) + 0.5; ctx.moveTo(a.left, p); ctx.lineTo(a.left + 6, p); });
    ctx.stroke();
    ctx.lineWidth = 1.6; ctx.strokeStyle = '#444';
    ctx.strokeRect(a.left, a.top, a.right - a.left, a.bottom - a.top);
    ctx.fillStyle = '#1a1a1a'; ctx.font = '18.8px ' + FONT;
    ctx.textBaseline = 'middle'; ctx.textAlign = 'left';
    const sx = x.getPixelForValue(0);
    o.stats.forEach((s, i) => ctx.fillText(s, sx, a.top + 15 + i * 29));
    if (o.oneLabel) {
      ctx.fillStyle = '#2020e0'; ctx.textAlign = 'right';
      ctx.fillText('1:1 line', a.right - 11, a.top + 87);
      ctx.textAlign = 'left';
    }
    ctx.fillStyle = '#111';
    ctx.font = 'bold 20px ' + FONT;
    const gx = a.right - o.gasDx, gy = a.bottom - o.gasDy;
    ctx.fillText(o.gas[0], gx, gy);
    if (o.gas[1]) {
      const w = ctx.measureText(o.gas[0]).width;
      ctx.font = '15px ' + FONT;
      ctx.fillText(o.gas[1], gx + w + 1, gy + 6);
    }
    ctx.restore();
  }
};

function makePanel(p) {
  const cv = document.getElementById(p.id);
  const yAxisW = p.L - p.cl;
  const xAxisH = p.cb - (p.T + p.H);
  const cw = yAxisW + p.W + 25, ch = 20 + p.H + xAxisH;
  cv.width = cw; cv.height = ch;
  cv.style.left = p.cl + 'px'; cv.style.top = (p.T - 20) + 'px';
  cv.style.width = cw + 'px'; cv.style.height = ch + 'px';
  const r = axisRange[p.k], st = tickStep[p.k];
  const thrLine = [[r[0] - 5, p.thr], [r[1] + 5, p.thr]];
  const tickFont = {family: FONT, size: 22, lineHeight: 1.2};
  const titleFont = {family: FONT, size: 20.5, lineHeight: 1.2};
  new Chart(cv, {
    type: 'scatter',
    data: { datasets: [
      {data: p.fit, showLine: true, borderColor: '#ff0000', borderWidth: 2.8, pointRadius: 0, order: 1},
      {data: p.one, showLine: true, borderColor: '#2020e0', borderWidth: 2, borderDash: [9, 6], pointRadius: 0, order: 2},
      {data: thrLine, showLine: true, borderColor: '#1f941f', borderWidth: 3, borderDash: [15, 9], pointRadius: 0, order: 3},
      {data: p.data, backgroundColor: '#000', borderWidth: 0, pointRadius: 2.5, order: 5}
    ]},
    options: {
      responsive: false, animation: false, events: [],
      layout: {padding: {left: 0, top: 20, right: 25, bottom: 0}},
      plugins: {legend: {display: false}, tooltip: {enabled: false},
        deco: {stats: p.stats, gas: p.gas, gasDx: p.gdx, gasDy: p.gdy, oneLabel: !!p.oneLabel}},
      scales: {
        x: {type: 'linear', min: r[0], max: r[1],
          ticks: {stepSize: st, includeBounds: false, padding: 0, color: '#222', font: tickFont, maxRotation: 0, autoSkip: false},
          grid: {display: false, drawTicks: false}, border: {display: false},
          title: {display: true, text: p.xt, color: '#1a1a1a', font: titleFont, padding: 0},
          afterFit(s) { s.height = xAxisH; }},
        y: {type: 'linear', min: r[0], max: r[1],
          ticks: {stepSize: st, includeBounds: false, padding: 5, color: '#222', font: tickFont, autoSkip: false},
          grid: {display: false, drawTicks: false}, border: {display: false},
          title: {display: true, text: p.yt, color: '#1a1a1a', font: titleFont, padding: 0},
          afterFit(s) { s.width = yAxisW; }}
      }
    },
    plugins: [deco]
  });
}

const panels = [
  {id:'c1', k:0, data:cnemnNO2, fit:fitCnemnNO2, one:oneNO2, thr:thrCnemn[0], stats:statsCnemnNO2, gas:gasNames[0], xt:'APHH '+unitUg, yt:'CNEMN '+unitUg, L:93, T:49, W:316, H:316, cl:14, cb:425, gdx:69.3, gdy:43.6, oneLabel:true},
  {id:'c2', k:1, data:cnemnSO2, fit:fitCnemnSO2, one:oneSO2, thr:thrCnemn[1], stats:statsCnemnSO2, gas:gasNames[1], xt:'APHH '+unitUg, yt:'CNEMN '+unitUg, L:486, T:49, W:316, H:316, cl:419, cb:425, gdx:68.7, gdy:60.3},
  {id:'c3', k:2, data:cnemnCO, fit:fitCnemnCO, one:oneCO, thr:thrCnemn[2], stats:statsCnemnCO, gas:gasNames[2], xt:'APHH '+unitMg, yt:'CNEMN '+unitMg, L:884, T:49, W:315, H:316, cl:811, cb:425, gdx:60.3, gdy:53.6},
  {id:'c4', k:0, data:bjmemnNO2, fit:fitBjmemnNO2, one:oneNO2, thr:thrBjmemn[0], stats:statsBjmemnNO2, gas:gasNames[0], xt:'APHH '+unitUg, yt:'BJEMN '+unitUg, L:93, T:490, W:316, H:315, cl:14, cb:866, gdx:69.3, gdy:43.6},
  {id:'c5', k:1, data:bjmemnSO2, fit:fitBjmemnSO2, one:oneSO2, thr:thrBjmemn[1], stats:statsBjmemnSO2, gas:gasNames[1], xt:'APHH '+unitUg, yt:'BJEMN '+unitUg, L:486, T:490, W:316, H:315, cl:419, cb:866, gdx:68.7, gdy:60.3},
  {id:'c6', k:2, data:bjmemnCO, fit:fitBjmemnCO, one:oneCO, thr:thrBjmemn[2], stats:statsBjmemnCO, gas:gasNames[2], xt:'APHH '+unitMg, yt:'BJEMN '+unitMg, L:884, T:490, W:315, H:315, cl:811, cb:866, gdx:60.3, gdy:52.6}
];
panels.forEach(makePanel);
</script>
</body></html>
